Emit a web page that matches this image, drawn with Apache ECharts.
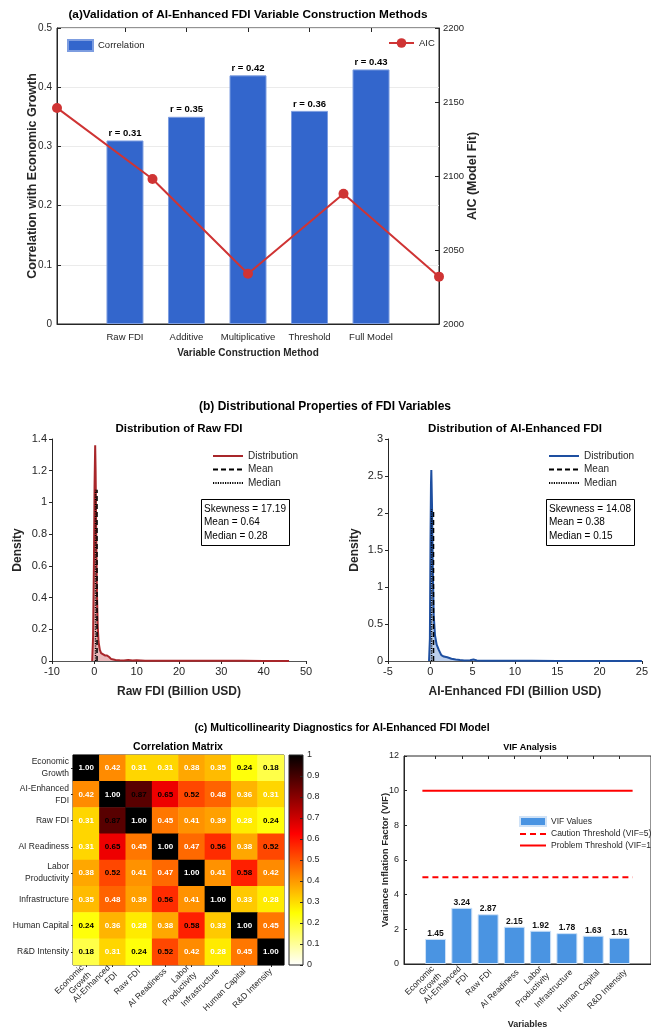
<!DOCTYPE html>
<html>
<head>
<meta charset="utf-8">
<script src="https://cdn.jsdelivr.net/npm/echarts@6.0.0/dist/echarts.min.js"></script>
<style>
html, body { margin: 0; padding: 0; background: #fff; }
#main { width: 651px; height: 1030px; }
</style>
</head>
<body>
<div id="main"></div>
<script>
// (a) 变量构造方法
var methods = ['Raw FDI', 'Additive', 'Multiplicative', 'Threshold', 'Full Model'];
var corrValues = [0.31, 0.35, 0.42, 0.36, 0.43];
var aicValues = [2146, 2098, 2034, 2088, 2032];

// (b) density curves
var rawX = [-0.5, -0.3, -0.1, 0.05, 0.2, 0.3, 0.45, 0.6, 0.8, 1.0, 1.3, 1.6, 2.0, 2.5, 3.0, 3.5, 4.0, 5.0, 6.0, 7.0, 8.0, 9.0, 10, 12, 15, 20, 25, 30, 35, 40, 46];
var rawY = [0, 0.15, 0.6, 1.1, 1.36, 1.2, 0.8, 0.45, 0.22, 0.12, 0.07, 0.05, 0.04, 0.035, 0.035, 0.025, 0.012, 0.006, 0.004, 0.003, 0.006, 0.003, 0.004, 0.002, 0.002, 0.001, 0.001, 0.001, 0.001, 0.0005, 0];
var aiX = [-0.15, -0.05, 0.02, 0.08, 0.12, 0.2, 0.3, 0.4, 0.55, 0.75, 1.0, 1.3, 1.6, 2.0, 2.5, 3.0, 3.5, 4.0, 4.7, 5.1, 5.5, 6.5, 8, 10, 12, 15, 18, 21, 25];
var aiY = [0, 0.3, 1.6, 2.4, 2.58, 2.1, 1.2, 0.62, 0.35, 0.22, 0.15, 0.08, 0.06, 0.05, 0.03, 0.02, 0.012, 0.008, 0.01, 0.02, 0.008, 0.004, 0.003, 0.002, 0.002, 0.001, 0.001, 0.001, 0];
var rawSkew = 17.19, rawMean = 0.64, rawMedian = 0.28, rawRefTop = 1.08;
var aiSkew = 14.08, aiMean = 0.38, aiMedian = 0.15, aiRefTop = 2.05;

// (c) 多重共线性
var varNames = ['Economic\nGrowth', 'AI-Enhanced\nFDI', 'Raw FDI', 'AI Readiness', 'Labor\nProductivity', 'Infrastructure', 'Human Capital', 'R&D Intensity'];
var corrMatrix = [
  [1.00, 0.42, 0.31, 0.31, 0.38, 0.35, 0.24, 0.18],
  [0.42, 1.00, 0.87, 0.65, 0.52, 0.48, 0.36, 0.31],
  [0.31, 0.87, 1.00, 0.45, 0.41, 0.39, 0.28, 0.24],
  [0.31, 0.65, 0.45, 1.00, 0.47, 0.56, 0.38, 0.52],
  [0.38, 0.52, 0.41, 0.47, 1.00, 0.41, 0.58, 0.42],
  [0.35, 0.48, 0.39, 0.56, 0.41, 1.00, 0.33, 0.28],
  [0.24, 0.36, 0.28, 0.38, 0.58, 0.33, 1.00, 0.45],
  [0.18, 0.31, 0.24, 0.52, 0.42, 0.28, 0.45, 1.00]
];
var vifValues = [1.45, 3.24, 2.87, 2.15, 1.92, 1.78, 1.63, 1.51];
var cautionVIF = 5, problemVIF = 10;
var thresholdSpan = [0.5, 8.5];

var SANS = "'Liberation Sans', Arial, sans-serif";
var INK = '#262626';
// flipud(hot)
var hotColors = ['#ffffff', '#ffff80', '#ffff00', '#ffaa00', '#ff5500', '#ff0000', '#aa0000', '#550000', '#000000'];

var chart = echarts.init(document.getElementById('main'), null, {renderer: 'canvas'});

function txt(size, bold) {
  return {fontSize: size, fontWeight: bold ? 'bold' : 'normal', fontFamily: SANS, color: INK};
}
function lineLegendItem(name) {
  // 图例里只要线，不要圆点
  return {name: name, itemStyle: {opacity: 0, color: 'rgba(0,0,0,0)', borderWidth: 0}};
}

function lineSeries(name, xs, ys, color, fill, xi, yi) {
  var pts = [];
  for (var i = 0; i < xs.length; i++) pts.push([xs[i], ys[i]]);
  return {
    name: name, type: 'line', xAxisIndex: xi, yAxisIndex: yi, data: pts,
    symbol: 'none', smooth: false, z: 3,
    lineStyle: {color: color, width: 2},
    itemStyle: {color: color},
    areaStyle: {color: fill, origin: 'start'}
  };
}
function refLine(name, x, top, dash, xi, yi) {
  return {
    name: name, type: 'line', xAxisIndex: xi, yAxisIndex: yi,
    data: [[x, 0], [x, top]], symbol: 'none', z: 4,
    lineStyle: {color: '#000', width: 1.5, type: dash},
    itemStyle: {color: '#000'}
  };
}

var heatData = [];
for (var r = 0; r < corrMatrix.length; r++) {
  for (var c = 0; c < corrMatrix[r].length; c++) {
    var v = corrMatrix[r][c];
    var dark = (v >= 0.5 && v < 1) || v < 0.25;
    heatData.push({value: [c, r, v], label: {color: dark ? '#000' : '#fff'}});
  }
}

var noZero = {onZero: false, show: true, lineStyle: {color: INK}};

var option = {
  backgroundColor: '#fff',
  animation: false,
  title: [
    {text: '(a)Validation of AI-Enhanced FDI Variable Construction Methods', left: 248, top: 9, textAlign: 'center', padding: 0,
      textStyle: {fontSize: 11.8, fontWeight: 'bold', fontFamily: SANS, color: '#000'}},
    {text: '(b) Distributional Properties of FDI Variables', left: 325, top: 401, textAlign: 'center', padding: 0,
      textStyle: {fontSize: 12, fontWeight: 'bold', fontFamily: SANS, color: '#000'}},
    {text: 'Distribution of Raw FDI', left: 179, top: 423, textAlign: 'center', padding: 0,
      textStyle: {fontSize: 11.5, fontWeight: 'bold', fontFamily: SANS, color: '#000'}},
    {text: 'Distribution of AI-Enhanced FDI', left: 515, top: 423, textAlign: 'center', padding: 0,
      textStyle: {fontSize: 11.5, fontWeight: 'bold', fontFamily: SANS, color: '#000'}},
    {text: 'Skewness = ' + rawSkew.toFixed(2) + '\nMean = ' + rawMean.toFixed(2) + '\nMedian = ' + rawMedian.toFixed(2),
      left: 201, top: 499, padding: [3, 4, 3, 3], borderColor: '#000', borderWidth: 1, backgroundColor: '#fff',
      textStyle: {fontSize: 10, fontWeight: 'normal', fontFamily: SANS, color: '#000', lineHeight: 13.5}},
    {text: 'Skewness = ' + aiSkew.toFixed(2) + '\nMean = ' + aiMean.toFixed(2) + '\nMedian = ' + aiMedian.toFixed(2),
      left: 546, top: 499, padding: [3, 4, 3, 3], borderColor: '#000', borderWidth: 1, backgroundColor: '#fff',
      textStyle: {fontSize: 10, fontWeight: 'normal', fontFamily: SANS, color: '#000', lineHeight: 13.5}},
    {text: '(c) Multicollinearity Diagnostics for AI-Enhanced FDI Model', left: 342, top: 723, textAlign: 'center', padding: 0,
      textStyle: {fontSize: 10.5, fontWeight: 'bold', fontFamily: SANS, color: '#000'}},
    {text: 'Correlation Matrix', left: 178, top: 742, textAlign: 'center', padding: 0,
      textStyle: {fontSize: 10.5, fontWeight: 'bold', fontFamily: SANS, color: '#000'}},
    {text: 'VIF Analysis', left: 530, top: 743, textAlign: 'center', padding: 0,
      textStyle: {fontSize: 9, fontWeight: 'bold', fontFamily: SANS, color: '#000'}}
  ],
  legend: [
    {data: ['Correlation'], left: 67, top: 39, padding: 0, itemWidth: 25, itemHeight: 11, icon: 'rect',
      textStyle: txt(9.5)},
    {data: ['AIC'], left: 388, top: 38, padding: 0, itemWidth: 25, itemHeight: 12,
      textStyle: txt(9.5)},
    {data: ['Distribution', 'Mean', 'Median'].map(lineLegendItem), orient: 'vertical', left: 212, top: 451, padding: 0,
      itemWidth: 30, itemHeight: 10, itemGap: 3.5, textStyle: txt(10)},
    {data: ['Distribution ', 'Mean ', 'Median '].map(lineLegendItem), orient: 'vertical', left: 548, top: 451, padding: 0,
      itemWidth: 30, itemHeight: 10, itemGap: 3.5, textStyle: txt(10)},
    {data: [{name: 'VIF Values', icon: 'rect'}, lineLegendItem('Caution Threshold (VIF=5)'), lineLegendItem('Problem Threshold (VIF=10)')],
      orient: 'vertical', left: 519, top: 816, padding: 0, itemWidth: 26, itemHeight: 9, itemGap: 2.5, textStyle: txt(8.5)}
  ],
  grid: [
    {left: 57, top: 28, width: 382, height: 296, show: true, borderColor: INK, borderWidth: 1, backgroundColor: 'transparent'},
    {left: 52, top: 439, width: 254, height: 222},
    {left: 388, top: 439, width: 254, height: 222},
    {left: 73, top: 755, width: 211, height: 210, show: true, borderColor: INK, borderWidth: 1},
    {left: 289, top: 755, width: 14, height: 210, show: true, borderColor: INK, borderWidth: 1,
      backgroundColor: {type: 'linear', x: 0, y: 1, x2: 0, y2: 0,
        colorStops: hotColors.map(function (c, i) { return {offset: i / (hotColors.length - 1), color: c}; })}},
    {left: 404, top: 756, width: 254, height: 209, show: true, borderColor: INK, borderWidth: 1},
    // VIF 标签专用（和 1..8 的刻度对齐）
    {left: 423, top: 756, width: 216, height: 209}
  ],
  xAxis: [
    // 0: bars
    {type: 'value', gridIndex: 0, min: -0.105, max: 6.105, splitLine: {show: false},
      axisLine: noZero,
      axisTick: {show: true, inside: true, length: 4, customValues: [1, 2, 3, 4, 5], lineStyle: {color: INK}},
      axisLabel: {customValues: [1, 2, 3, 4, 5], formatter: function (v) { return methods[Math.round(v) - 1] || ''; },
        showMinLabel: true, showMaxLabel: true, margin: 8, fontSize: 9.5, fontFamily: SANS, color: INK},
      name: 'Variable Construction Method', nameLocation: 'middle', nameGap: 24, nameMoveOverlap: false,
      nameTextStyle: txt(10, true)},
    // 1: top mirror
    {type: 'value', gridIndex: 0, position: 'top', min: -0.105, max: 6.105, splitLine: {show: false},
      axisLine: {show: false, onZero: false}, axisLabel: {show: false},
      axisTick: {show: true, inside: true, length: 4, customValues: [1, 2, 3, 4, 5], lineStyle: {color: INK}}},
    // 2: AIC
    {type: 'value', gridIndex: 0, min: 0, max: 4, show: false, axisLine: {onZero: false}},
    // 3: raw density
    {type: 'value', gridIndex: 1, min: -10, max: 50, interval: 10, splitLine: {show: false},
      axisLine: {onZero: false, lineStyle: {color: '#555'}}, axisTick: {length: 3, lineStyle: {color: INK}},
      axisLabel: {fontSize: 11, color: INK, fontFamily: SANS, margin: 5},
      name: 'Raw FDI (Billion USD)', nameLocation: 'middle', nameGap: 25, nameMoveOverlap: false, nameTextStyle: txt(12, true)},
    // 4: ai density
    {type: 'value', gridIndex: 2, min: -5, max: 25, interval: 5, splitLine: {show: false},
      axisLine: {onZero: false, lineStyle: {color: '#555'}}, axisTick: {length: 3, lineStyle: {color: INK}},
      axisLabel: {fontSize: 11, color: INK, fontFamily: SANS, margin: 5},
      name: 'AI-Enhanced FDI (Billion USD)', nameLocation: 'middle', nameGap: 25, nameMoveOverlap: false, nameTextStyle: txt(12, true)},
    // 5: heatmap
    {type: 'category', gridIndex: 3, data: varNames, splitLine: {show: false}, splitArea: {show: false},
      axisLine: {show: false, onZero: false}, axisTick: {show: true, length: 2, alignWithLabel: true, lineStyle: {color: INK}},
      axisLabel: {interval: 0, rotate: 45, fontSize: 8.5, color: INK, fontFamily: SANS, margin: 5, lineHeight: 10}},
    // 6: colorbar
    {type: 'category', gridIndex: 4, data: [''], show: false},
    // 7: VIF
    {type: 'value', gridIndex: 5, min: -0.2, max: 9.2, splitLine: {show: false},
      axisLine: noZero,
      axisTick: {show: true, inside: true, length: 3, customValues: [1, 2, 3, 4, 5, 6, 7, 8], lineStyle: {color: INK}},
      axisLabel: {show: false},
      name: 'Variables', nameLocation: 'middle', nameGap: 56, nameMoveOverlap: false, nameTextStyle: txt(9, true)},
    // 8: VIF top mirror
    {type: 'value', gridIndex: 5, position: 'top', min: -0.2, max: 9.2, splitLine: {show: false},
      axisLine: {show: false, onZero: false}, axisLabel: {show: false},
      axisTick: {show: true, inside: true, length: 3, customValues: [1, 2, 3, 4, 5, 6, 7, 8], lineStyle: {color: INK}}},
    // 9: VIF labels
    {type: 'category', gridIndex: 6, data: varNames, axisLine: {show: false, onZero: false}, axisTick: {show: false},
      splitLine: {show: false},
      axisLabel: {interval: 0, rotate: 45, fontSize: 8.5, color: INK, fontFamily: SANS, margin: 6, lineHeight: 10}}
  ],
  yAxis: [
    // 0: correlation
    {type: 'value', gridIndex: 0, min: 0, max: 0.5, interval: 0.1,
      axisLine: noZero,
      axisTick: {show: true, inside: true, length: 4, lineStyle: {color: INK}},
      splitLine: {show: true, lineStyle: {color: '#ebebeb', width: 1}},
      axisLabel: {fontSize: 10, fontFamily: SANS, color: INK, margin: 5},
      name: 'Correlation with Economic Growth', nameLocation: 'middle', nameGap: 18, nameRotate: 90, nameMoveOverlap: false,
      nameTextStyle: txt(12.5, true)},
    // 1: AIC
    {type: 'value', gridIndex: 0, position: 'right', min: 2000, max: 2200, interval: 50,
      axisLine: noZero,
      axisTick: {show: true, inside: true, length: 4, lineStyle: {color: INK}},
      splitLine: {show: false},
      axisLabel: {fontSize: 9.5, fontFamily: SANS, color: INK, margin: 4, formatter: function (v) { return String(v); }},
      name: 'AIC (Model Fit)', nameLocation: 'middle', nameGap: 27, nameRotate: 90, nameMoveOverlap: false,
      nameTextStyle: txt(12.5, true)},
    // 2: raw density
    {type: 'value', gridIndex: 1, min: 0, max: 1.4, interval: 0.2, splitLine: {show: false},
      axisLine: noZero, axisTick: {show: true, length: 3, lineStyle: {color: INK}},
      axisLabel: {fontSize: 11, color: INK, fontFamily: SANS, margin: 5},
      name: 'Density', nameLocation: 'middle', nameGap: 28, nameRotate: 90, nameMoveOverlap: false, nameTextStyle: txt(12, true)},
    // 3: ai density
    {type: 'value', gridIndex: 2, min: 0, max: 3, interval: 0.5, splitLine: {show: false},
      axisLine: noZero, axisTick: {show: true, length: 3, lineStyle: {color: INK}},
      axisLabel: {fontSize: 11, color: INK, fontFamily: SANS, margin: 5},
      name: 'Density', nameLocation: 'middle', nameGap: 27, nameRotate: 90, nameMoveOverlap: false, nameTextStyle: txt(12, true)},
    // 4: heatmap rows
    {type: 'category', gridIndex: 3, data: varNames, inverse: true, splitLine: {show: false},
      axisLine: {show: false, onZero: false}, axisTick: {show: true, length: 2, alignWithLabel: true, lineStyle: {color: INK}},
      axisLabel: {interval: 0, fontSize: 8.5, color: INK, fontFamily: SANS, margin: 4, lineHeight: 12}},
    // 5: colorbar
    {type: 'value', gridIndex: 4, position: 'right', min: 0, max: 1, interval: 0.1, splitLine: {show: false},
      axisLine: {show: false, onZero: false}, axisTick: {show: true, inside: true, length: 3, lineStyle: {color: INK}},
      axisLabel: {fontSize: 9, color: INK, fontFamily: SANS, margin: 4}},
    // 6: VIF
    {type: 'value', gridIndex: 5, min: 0, max: 12, interval: 2, splitLine: {show: false},
      axisLine: noZero, axisTick: {show: true, inside: true, length: 3, lineStyle: {color: INK}},
      axisLabel: {fontSize: 9, color: INK, fontFamily: SANS, margin: 5},
      name: 'Variance Inflation Factor (VIF)', nameLocation: 'middle', nameGap: 14, nameRotate: 90, nameMoveOverlap: false,
      nameTextStyle: txt(9.5, true)},
    // 7: VIF labels grid
    {type: 'value', gridIndex: 6, show: false, axisLine: {onZero: false}}
  ],
  visualMap: {show: false, type: 'continuous', min: 0, max: 1, seriesIndex: 8, dimension: 2,
    inRange: {color: hotColors}},
  series: [
    // 0
    {name: 'Correlation', type: 'bar', xAxisIndex: 0, yAxisIndex: 0, barWidth: 37,
      data: corrValues.map(function (v, i) { return [i + 1, v]; }),
      itemStyle: {color: '#3366CC', borderColor: '#7d9de0', borderWidth: 1},
      label: {show: true, position: 'top', distance: 2, formatter: function (p) { return 'r = ' + p.value[1].toFixed(2); },
        fontSize: 9.5, fontWeight: 'bold', fontFamily: SANS, color: '#000'}},
    // 1
    {name: 'AIC', type: 'line', xAxisIndex: 2, yAxisIndex: 1, clip: false, z: 5,
      data: aicValues.map(function (v, i) { return [i, v]; }),
      symbol: 'circle', symbolSize: 10,
      lineStyle: {color: '#CF3434', width: 2}, itemStyle: {color: '#CF3434'}},
    // 2-4 raw
    lineSeries('Distribution', rawX, rawY, '#A8262A', 'rgba(200,70,75,0.55)', 3, 2),
    refLine('Mean', rawMean, rawRefTop, [5, 3], 3, 2),
    refLine('Median', rawMedian, rawRefTop, [1.2, 1.2], 3, 2),
    // 5-7 ai
    lineSeries('Distribution ', aiX, aiY, '#1E4FA0', 'rgba(80,130,205,0.55)', 4, 3),
    refLine('Mean ', aiMean, aiRefTop, [5, 3], 4, 3),
    refLine('Median ', aiMedian, aiRefTop, [1.2, 1.2], 4, 3),
    // 8 heatmap
    {name: 'Correlation Matrix', type: 'heatmap', xAxisIndex: 5, yAxisIndex: 4, data: heatData,
      label: {show: true, formatter: function (p) { return p.value[2].toFixed(2); }, fontSize: 8, fontWeight: 'bold', fontFamily: SANS},
      itemStyle: {borderWidth: 0}},
    // 9 VIF bars
    {name: 'VIF Values', type: 'bar', xAxisIndex: 7, yAxisIndex: 6, barWidth: 21,
      data: vifValues.map(function (v, i) { return [i + 1, v]; }),
      itemStyle: {color: '#4A94E2', borderColor: '#cfe2f7', borderWidth: 1},
      label: {show: true, position: 'top', distance: 1, formatter: function (p) { return p.value[1].toFixed(2); },
        fontSize: 8.5, fontWeight: 'bold', fontFamily: SANS, color: '#111'}},
    // 10-11 thresholds
    {name: 'Caution Threshold (VIF=5)', type: 'line', xAxisIndex: 7, yAxisIndex: 6, symbol: 'none',
      data: [[thresholdSpan[0], cautionVIF], [thresholdSpan[1], cautionVIF]],
      lineStyle: {color: '#FF0000', width: 2, type: [6, 4]}, itemStyle: {color: '#FF0000'}},
    {name: 'Problem Threshold (VIF=10)', type: 'line', xAxisIndex: 7, yAxisIndex: 6, symbol: 'none',
      data: [[thresholdSpan[0], problemVIF], [thresholdSpan[1], problemVIF]],
      lineStyle: {color: '#FF0000', width: 2}, itemStyle: {color: '#FF0000'}}
  ]
};

chart.setOption(option);
</script>
</body>
</html>
